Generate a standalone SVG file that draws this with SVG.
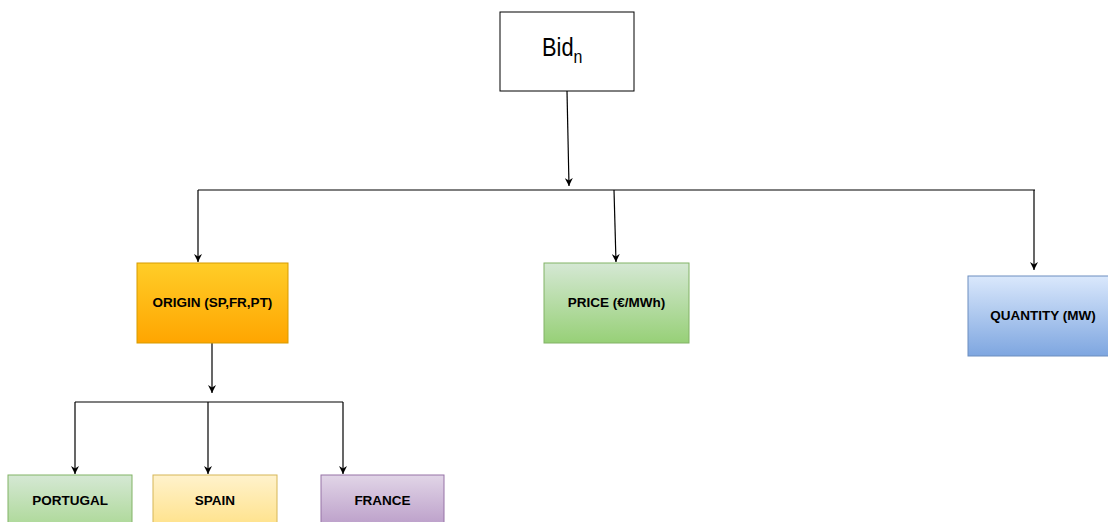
<svg xmlns="http://www.w3.org/2000/svg" width="1108" height="522" viewBox="0 0 1108 522">
  <style>
    .lbl { font-family: "Liberation Sans", Arial, sans-serif; font-weight: bold; font-size: 13.5px; fill: #000; text-anchor: middle; dominant-baseline: central; }
    .edge { fill: none; stroke: #000; stroke-width: 1.2; }
    .box { stroke-width: 1; }
  </style>
  <defs>
    <linearGradient id="gOrange" x1="0" y1="0" x2="0" y2="1">
      <stop offset="0" stop-color="#ffcd28"/>
      <stop offset="1" stop-color="#ffa500"/>
    </linearGradient>
    <linearGradient id="gGreen" x1="0" y1="0" x2="0" y2="1">
      <stop offset="0" stop-color="#d5e8d4"/>
      <stop offset="1" stop-color="#97d077"/>
    </linearGradient>
    <linearGradient id="gBlue" x1="0" y1="0" x2="0" y2="1">
      <stop offset="0" stop-color="#dae8fc"/>
      <stop offset="1" stop-color="#7ea6e0"/>
    </linearGradient>
    <linearGradient id="gYellow" x1="0" y1="0" x2="0" y2="1">
      <stop offset="0" stop-color="#fff2cc"/>
      <stop offset="1" stop-color="#ffd966"/>
    </linearGradient>
    <linearGradient id="gPurple" x1="0" y1="0" x2="0" y2="1">
      <stop offset="0" stop-color="#e1d5e7"/>
      <stop offset="1" stop-color="#a680b8"/>
    </linearGradient>
    <marker id="arrow" viewBox="0 0 10 10" refX="10" refY="5" markerWidth="8" markerHeight="8" markerUnits="userSpaceOnUse" orient="auto">
      <path d="M0,0 L10,5 L0,10 L3,5 Z" fill="#000"/>
    </marker>
  </defs>

  <!-- connectors -->
  <g id="connectors">
    <path class="edge" d="M567,91 L569,186" marker-end="url(#arrow)"/>
    <path class="edge" d="M198,190 L1035,190"/>
    <path class="edge" d="M198,190 L198,262" marker-end="url(#arrow)"/>
    <path class="edge" d="M614,190 L616,262" marker-end="url(#arrow)"/>
    <path class="edge" d="M1034,190 L1034,270" marker-end="url(#arrow)"/>
    <path class="edge" d="M212,343 L212,393" marker-end="url(#arrow)"/>
    <path class="edge" d="M75,402 L343,402"/>
    <path class="edge" d="M75,402 L75,474" marker-end="url(#arrow)"/>
    <path class="edge" d="M208,402 L208,474" marker-end="url(#arrow)"/>
    <path class="edge" d="M343,402 L343,474" marker-end="url(#arrow)"/>
  </g>

  <g id="bid">
    <rect x="500" y="12" width="134" height="79" fill="#fff" stroke="#000" class="box"/>
    <text transform="translate(542,56) scale(0.84,1)" font-family="Liberation Sans, Arial, sans-serif" font-size="26" fill="#000">Bid<tspan font-size="19" dy="7">n</tspan></text>
  </g>

  <g id="origin">
    <rect x="137" y="263" width="151" height="80" fill="url(#gOrange)" stroke="#d79b00" class="box"/>
    <text x="212.5" y="302" class="lbl">ORIGIN (SP,FR,PT)</text>
  </g>

  <g id="price">
    <rect x="544" y="263" width="145" height="80" fill="url(#gGreen)" stroke="#82b366" class="box"/>
    <text x="616.5" y="302" class="lbl">PRICE (€/MWh)</text>
  </g>

  <g id="quantity">
    <rect x="968" y="276" width="145" height="80" fill="url(#gBlue)" stroke="#6c8ebf" class="box"/>
    <text x="1043" y="315" class="lbl">QUANTITY (MW)</text>
  </g>

  <g id="portugal">
    <rect x="8" y="475" width="124" height="80" fill="url(#gGreen)" stroke="#82b366" class="box"/>
    <text x="70" y="500" class="lbl">PORTUGAL</text>
  </g>

  <g id="spain">
    <rect x="153" y="475" width="124" height="80" fill="url(#gYellow)" stroke="#d6b656" class="box"/>
    <text x="215" y="500" class="lbl">SPAIN</text>
  </g>

  <g id="france">
    <rect x="321" y="475" width="123" height="80" fill="url(#gPurple)" stroke="#9673a6" class="box"/>
    <text x="382.5" y="500" class="lbl">FRANCE</text>
  </g>
</svg>
